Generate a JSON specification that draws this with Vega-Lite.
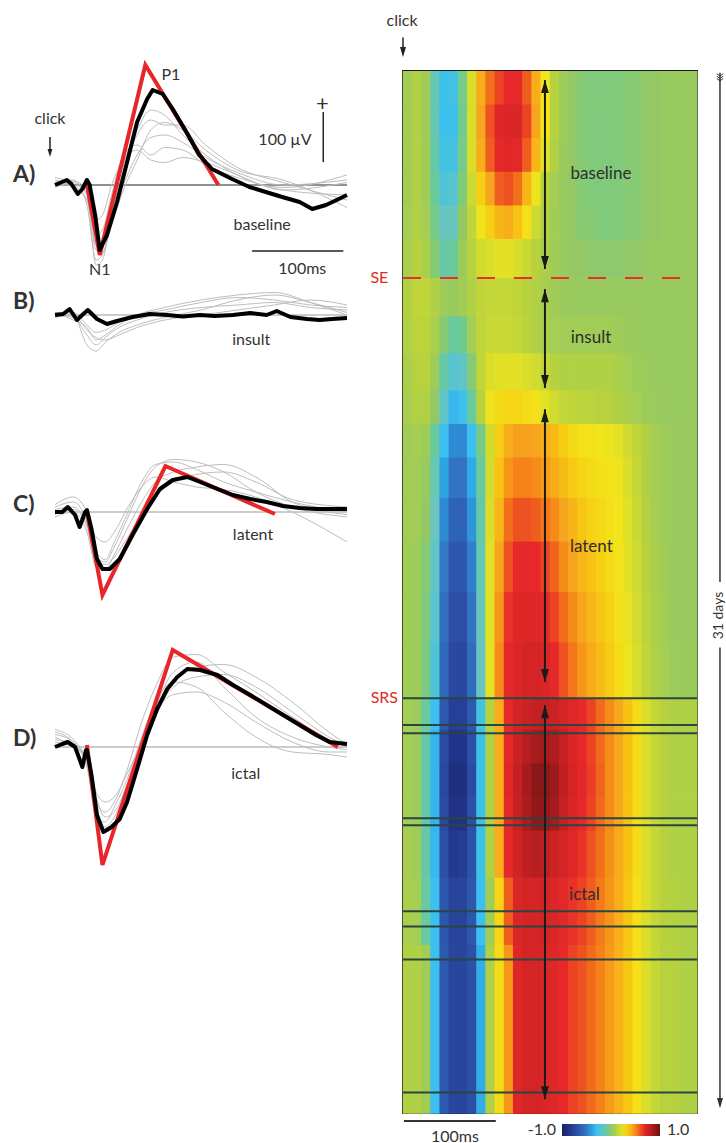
{
"$schema":"https://vega.github.io/schema/vega-lite/v6.json",
"autosize":{"type":"pad"},
"padding":{"left":13,"top":11,"right":0,"bottom":0},
"background":"white",
"config":{"view":{"stroke":null},"font":"Lato","text":{"font":"Lato","color":"#333"},"legend":{"padding":0}},
"datasets":{
"A":[
{"s":"m","t":0,"v":0},{"s":"m","t":13,"v":10},{"s":"m","t":18,"v":2},{"s":"m","t":25,"v":-18},{"s":"m","t":30,"v":-8},{"s":"m","t":35,"v":10},{"s":"m","t":38,"v":0},{"s":"m","t":44,"v":-60},{"s":"m","t":49,"v":-130},{"s":"m","t":57,"v":-100},{"s":"m","t":68,"v":-34},{"s":"m","t":79,"v":46},{"s":"m","t":90,"v":126},{"s":"m","t":101,"v":172},{"s":"m","t":107,"v":190},{"s":"m","t":118,"v":182},{"s":"m","t":129,"v":152},{"s":"m","t":144,"v":106},{"s":"m","t":158,"v":60},{"s":"m","t":172,"v":32},{"s":"m","t":194,"v":12},{"s":"m","t":213,"v":-4},{"s":"m","t":231,"v":-14},{"s":"m","t":249,"v":-24},{"s":"m","t":268,"v":-34},{"s":"m","t":282,"v":-48},{"s":"m","t":297,"v":-40},{"s":"m","t":311,"v":-28},{"s":"m","t":320,"v":-20},
{"s":"r","t":35,"v":0},{"s":"r","t":49,"v":-140},{"s":"r","t":99,"v":240},{"s":"r","t":179,"v":0},
{"s":"g1","t":0,"v":0},{"s":"g1","t":20,"v":8},{"s":"g1","t":35,"v":-10},{"s":"g1","t":45,"v":-120},{"s":"g1","t":52,"v":-110},{"s":"g1","t":62,"v":-40},{"s":"g1","t":75,"v":40},{"s":"g1","t":90,"v":110},{"s":"g1","t":105,"v":150},{"s":"g1","t":120,"v":140},{"s":"g1","t":140,"v":100},{"s":"g1","t":165,"v":60},{"s":"g1","t":200,"v":20},{"s":"g1","t":250,"v":-10},{"s":"g1","t":320,"v":-20},
{"s":"g2","t":0,"v":5},{"s":"g2","t":20,"v":10},{"s":"g2","t":35,"v":-40},{"s":"g2","t":45,"v":-150},{"s":"g2","t":52,"v":-140},{"s":"g2","t":62,"v":-70},{"s":"g2","t":75,"v":0},{"s":"g2","t":90,"v":60},{"s":"g2","t":105,"v":95},{"s":"g2","t":120,"v":100},{"s":"g2","t":140,"v":85},{"s":"g2","t":165,"v":55},{"s":"g2","t":200,"v":25},{"s":"g2","t":250,"v":0},{"s":"g2","t":320,"v":10},
{"s":"g3","t":0,"v":15},{"s":"g3","t":20,"v":0},{"s":"g3","t":35,"v":-30},{"s":"g3","t":45,"v":-100},{"s":"g3","t":52,"v":-90},{"s":"g3","t":62,"v":-20},{"s":"g3","t":75,"v":60},{"s":"g3","t":90,"v":80},{"s":"g3","t":105,"v":60},{"s":"g3","t":120,"v":75},{"s":"g3","t":140,"v":70},{"s":"g3","t":165,"v":40},{"s":"g3","t":200,"v":15},{"s":"g3","t":250,"v":-5},{"s":"g3","t":320,"v":20},
{"s":"g4","t":0,"v":-5},{"s":"g4","t":20,"v":5},{"s":"g4","t":35,"v":-20},{"s":"g4","t":45,"v":-160},{"s":"g4","t":52,"v":-150},{"s":"g4","t":62,"v":-60},{"s":"g4","t":75,"v":30},{"s":"g4","t":90,"v":100},{"s":"g4","t":105,"v":130},{"s":"g4","t":120,"v":120},{"s":"g4","t":140,"v":120},{"s":"g4","t":165,"v":80},{"s":"g4","t":200,"v":35},{"s":"g4","t":250,"v":5},{"s":"g4","t":320,"v":-30},
{"s":"g5","t":0,"v":0},{"s":"g5","t":20,"v":0},{"s":"g5","t":35,"v":-15},{"s":"g5","t":45,"v":-70},{"s":"g5","t":52,"v":-60},{"s":"g5","t":62,"v":0},{"s":"g5","t":75,"v":50},{"s":"g5","t":90,"v":70},{"s":"g5","t":105,"v":50},{"s":"g5","t":120,"v":45},{"s":"g5","t":140,"v":55},{"s":"g5","t":165,"v":45},{"s":"g5","t":200,"v":20},{"s":"g5","t":250,"v":-10},{"s":"g5","t":320,"v":5},
{"s":"g6","t":0,"v":10},{"s":"g6","t":20,"v":-5},{"s":"g6","t":35,"v":-30},{"s":"g6","t":45,"v":-130},{"s":"g6","t":52,"v":-135},{"s":"g6","t":62,"v":-80},{"s":"g6","t":75,"v":-10},{"s":"g6","t":90,"v":50},{"s":"g6","t":105,"v":110},{"s":"g6","t":120,"v":125},{"s":"g6","t":140,"v":110},{"s":"g6","t":165,"v":70},{"s":"g6","t":200,"v":30},{"s":"g6","t":250,"v":10},{"s":"g6","t":320,"v":-45}
],
"B":[
{"s":"m","t":0,"v":0},{"s":"m","t":9,"v":2},{"s":"m","t":16,"v":12},{"s":"m","t":24,"v":-10},{"s":"m","t":31,"v":2},{"s":"m","t":36,"v":10},{"s":"m","t":46,"v":-8},{"s":"m","t":57,"v":-18},{"s":"m","t":68,"v":-12},{"s":"m","t":85,"v":-4},{"s":"m","t":104,"v":2},{"s":"m","t":123,"v":0},{"s":"m","t":140,"v":-3},{"s":"m","t":159,"v":0},{"s":"m","t":175,"v":-2},{"s":"m","t":195,"v":0},{"s":"m","t":214,"v":4},{"s":"m","t":232,"v":0},{"s":"m","t":243,"v":8},{"s":"m","t":258,"v":-4},{"s":"m","t":276,"v":-8},{"s":"m","t":290,"v":-10},{"s":"m","t":304,"v":-8},{"s":"m","t":320,"v":-6},
{"s":"g1","t":0,"v":0},{"s":"g1","t":20,"v":-5},{"s":"g1","t":35,"v":-40},{"s":"g1","t":45,"v":-60},{"s":"g1","t":55,"v":-45},{"s":"g1","t":70,"v":-25},{"s":"g1","t":90,"v":-10},{"s":"g1","t":120,"v":5},{"s":"g1","t":160,"v":15},{"s":"g1","t":200,"v":20},{"s":"g1","t":240,"v":25},{"s":"g1","t":280,"v":15},{"s":"g1","t":320,"v":10},
{"s":"g2","t":0,"v":5},{"s":"g2","t":20,"v":0},{"s":"g2","t":35,"v":-60},{"s":"g2","t":45,"v":-72},{"s":"g2","t":55,"v":-55},{"s":"g2","t":70,"v":-35},{"s":"g2","t":90,"v":-20},{"s":"g2","t":120,"v":-5},{"s":"g2","t":160,"v":10},{"s":"g2","t":200,"v":30},{"s":"g2","t":240,"v":40},{"s":"g2","t":280,"v":25},{"s":"g2","t":320,"v":5},
{"s":"g3","t":0,"v":0},{"s":"g3","t":20,"v":5},{"s":"g3","t":35,"v":-20},{"s":"g3","t":45,"v":-35},{"s":"g3","t":55,"v":-30},{"s":"g3","t":70,"v":-15},{"s":"g3","t":90,"v":0},{"s":"g3","t":120,"v":10},{"s":"g3","t":160,"v":25},{"s":"g3","t":200,"v":35},{"s":"g3","t":240,"v":30},{"s":"g3","t":280,"v":20},{"s":"g3","t":320,"v":15},
{"s":"g4","t":0,"v":-5},{"s":"g4","t":20,"v":0},{"s":"g4","t":35,"v":-30},{"s":"g4","t":45,"v":-45},{"s":"g4","t":55,"v":-50},{"s":"g4","t":70,"v":-40},{"s":"g4","t":90,"v":-25},{"s":"g4","t":120,"v":-10},{"s":"g4","t":160,"v":0},{"s":"g4","t":200,"v":10},{"s":"g4","t":240,"v":20},{"s":"g4","t":280,"v":30},{"s":"g4","t":320,"v":20},
{"s":"g5","t":0,"v":5},{"s":"g5","t":20,"v":-10},{"s":"g5","t":35,"v":-25},{"s":"g5","t":45,"v":-50},{"s":"g5","t":55,"v":-40},{"s":"g5","t":70,"v":-20},{"s":"g5","t":90,"v":0},{"s":"g5","t":120,"v":15},{"s":"g5","t":160,"v":30},{"s":"g5","t":200,"v":40},{"s":"g5","t":240,"v":45},{"s":"g5","t":280,"v":25},{"s":"g5","t":320,"v":0}
],
"C":[
{"s":"m","t":0,"v":0},{"s":"m","t":8,"v":0},{"s":"m","t":14,"v":10},{"s":"m","t":22,"v":-6},{"s":"m","t":27,"v":-30},{"s":"m","t":33,"v":0},{"s":"m","t":35,"v":4},{"s":"m","t":40,"v":-34},{"s":"m","t":46,"v":-94},{"s":"m","t":52,"v":-114},{"s":"m","t":60,"v":-114},{"s":"m","t":71,"v":-94},{"s":"m","t":85,"v":-46},{"s":"m","t":101,"v":6},{"s":"m","t":115,"v":46},{"s":"m","t":129,"v":64},{"s":"m","t":145,"v":70},{"s":"m","t":159,"v":60},{"s":"m","t":178,"v":46},{"s":"m","t":195,"v":34},{"s":"m","t":214,"v":26},{"s":"m","t":232,"v":20},{"s":"m","t":250,"v":12},{"s":"m","t":268,"v":8},{"s":"m","t":286,"v":6},{"s":"m","t":304,"v":6},{"s":"m","t":320,"v":6},
{"s":"r","t":35,"v":0},{"s":"r","t":52,"v":-166},{"s":"r","t":121,"v":92},{"s":"r","t":241,"v":-4},
{"s":"g1","t":0,"v":10},{"s":"g1","t":20,"v":20},{"s":"g1","t":35,"v":-20},{"s":"g1","t":45,"v":-90},{"s":"g1","t":55,"v":-100},{"s":"g1","t":65,"v":-70},{"s":"g1","t":80,"v":-10},{"s":"g1","t":95,"v":50},{"s":"g1","t":110,"v":90},{"s":"g1","t":130,"v":105},{"s":"g1","t":155,"v":100},{"s":"g1","t":185,"v":80},{"s":"g1","t":220,"v":40},{"s":"g1","t":260,"v":10},{"s":"g1","t":320,"v":-10},
{"s":"g2","t":0,"v":-10},{"s":"g2","t":20,"v":0},{"s":"g2","t":35,"v":-40},{"s":"g2","t":45,"v":-110},{"s":"g2","t":55,"v":-115},{"s":"g2","t":65,"v":-85},{"s":"g2","t":80,"v":-30},{"s":"g2","t":95,"v":20},{"s":"g2","t":110,"v":60},{"s":"g2","t":130,"v":80},{"s":"g2","t":155,"v":90},{"s":"g2","t":185,"v":95},{"s":"g2","t":220,"v":70},{"s":"g2","t":260,"v":20},{"s":"g2","t":320,"v":-5},
{"s":"g3","t":0,"v":15},{"s":"g3","t":20,"v":30},{"s":"g3","t":35,"v":0},{"s":"g3","t":45,"v":-50},{"s":"g3","t":55,"v":-60},{"s":"g3","t":65,"v":-40},{"s":"g3","t":80,"v":10},{"s":"g3","t":95,"v":50},{"s":"g3","t":110,"v":70},{"s":"g3","t":130,"v":60},{"s":"g3","t":155,"v":50},{"s":"g3","t":185,"v":45},{"s":"g3","t":220,"v":30},{"s":"g3","t":260,"v":0},{"s":"g3","t":320,"v":-60},
{"s":"g4","t":0,"v":5},{"s":"g4","t":20,"v":10},{"s":"g4","t":35,"v":-30},{"s":"g4","t":45,"v":-100},{"s":"g4","t":55,"v":-105},{"s":"g4","t":65,"v":-90},{"s":"g4","t":80,"v":-50},{"s":"g4","t":95,"v":-10},{"s":"g4","t":110,"v":30},{"s":"g4","t":130,"v":60},{"s":"g4","t":155,"v":75},{"s":"g4","t":185,"v":80},{"s":"g4","t":220,"v":60},{"s":"g4","t":260,"v":25},{"s":"g4","t":320,"v":10},
{"s":"g5","t":0,"v":-5},{"s":"g5","t":20,"v":5},{"s":"g5","t":35,"v":-25},{"s":"g5","t":45,"v":-80},{"s":"g5","t":55,"v":-95},{"s":"g5","t":65,"v":-60},{"s":"g5","t":80,"v":0},{"s":"g5","t":95,"v":60},{"s":"g5","t":110,"v":95},{"s":"g5","t":130,"v":100},{"s":"g5","t":155,"v":85},{"s":"g5","t":185,"v":60},{"s":"g5","t":220,"v":40},{"s":"g5","t":260,"v":20},{"s":"g5","t":320,"v":0}
],
"D":[
{"s":"m","t":0,"v":0},{"s":"m","t":8,"v":6},{"s":"m","t":14,"v":10},{"s":"m","t":22,"v":0},{"s":"m","t":30,"v":-40},{"s":"m","t":34,"v":-6},{"s":"m","t":35,"v":-6},{"s":"m","t":40,"v":-56},{"s":"m","t":46,"v":-136},{"s":"m","t":53,"v":-170},{"s":"m","t":62,"v":-160},{"s":"m","t":71,"v":-144},{"s":"m","t":79,"v":-110},{"s":"m","t":90,"v":-44},{"s":"m","t":101,"v":24},{"s":"m","t":112,"v":76},{"s":"m","t":123,"v":116},{"s":"m","t":134,"v":140},{"s":"m","t":145,"v":156},{"s":"m","t":159,"v":154},{"s":"m","t":178,"v":144},{"s":"m","t":195,"v":124},{"s":"m","t":214,"v":104},{"s":"m","t":232,"v":84},{"s":"m","t":250,"v":64},{"s":"m","t":268,"v":44},{"s":"m","t":286,"v":24},{"s":"m","t":301,"v":10},{"s":"m","t":320,"v":6},
{"s":"r","t":35,"v":4},{"s":"r","t":52,"v":-236},{"s":"r","t":129,"v":194},{"s":"r","t":310,"v":0},
{"s":"g1","t":0,"v":30},{"s":"g1","t":20,"v":10},{"s":"g1","t":35,"v":-30},{"s":"g1","t":45,"v":-110},{"s":"g1","t":55,"v":-130},{"s":"g1","t":65,"v":-110},{"s":"g1","t":80,"v":-40},{"s":"g1","t":95,"v":50},{"s":"g1","t":110,"v":120},{"s":"g1","t":130,"v":180},{"s":"g1","t":155,"v":185},{"s":"g1","t":185,"v":150},{"s":"g1","t":220,"v":110},{"s":"g1","t":260,"v":60},{"s":"g1","t":300,"v":15},{"s":"g1","t":320,"v":0},
{"s":"g2","t":0,"v":15},{"s":"g2","t":20,"v":5},{"s":"g2","t":35,"v":-40},{"s":"g2","t":45,"v":-140},{"s":"g2","t":55,"v":-150},{"s":"g2","t":65,"v":-120},{"s":"g2","t":80,"v":-60},{"s":"g2","t":95,"v":20},{"s":"g2","t":110,"v":90},{"s":"g2","t":130,"v":130},{"s":"g2","t":155,"v":120},{"s":"g2","t":185,"v":70},{"s":"g2","t":220,"v":20},{"s":"g2","t":260,"v":-10},{"s":"g2","t":300,"v":-15},{"s":"g2","t":320,"v":-20},
{"s":"g3","t":0,"v":20},{"s":"g3","t":20,"v":0},{"s":"g3","t":35,"v":-20},{"s":"g3","t":45,"v":-90},{"s":"g3","t":55,"v":-110},{"s":"g3","t":65,"v":-100},{"s":"g3","t":80,"v":-50},{"s":"g3","t":95,"v":10},{"s":"g3","t":110,"v":70},{"s":"g3","t":130,"v":105},{"s":"g3","t":155,"v":110},{"s":"g3","t":185,"v":90},{"s":"g3","t":220,"v":50},{"s":"g3","t":260,"v":10},{"s":"g3","t":300,"v":-10},{"s":"g3","t":320,"v":-10},
{"s":"g4","t":0,"v":35},{"s":"g4","t":20,"v":15},{"s":"g4","t":35,"v":-30},{"s":"g4","t":45,"v":-120},{"s":"g4","t":55,"v":-170},{"s":"g4","t":65,"v":-160},{"s":"g4","t":80,"v":-90},{"s":"g4","t":95,"v":-10},{"s":"g4","t":110,"v":60},{"s":"g4","t":130,"v":130},{"s":"g4","t":155,"v":160},{"s":"g4","t":185,"v":165},{"s":"g4","t":220,"v":140},{"s":"g4","t":260,"v":90},{"s":"g4","t":300,"v":30},{"s":"g4","t":320,"v":5},
{"s":"g5","t":0,"v":10},{"s":"g5","t":20,"v":0},{"s":"g5","t":35,"v":-25},{"s":"g5","t":45,"v":-100},{"s":"g5","t":55,"v":-140},{"s":"g5","t":65,"v":-130},{"s":"g5","t":80,"v":-70},{"s":"g5","t":95,"v":10},{"s":"g5","t":110,"v":80},{"s":"g5","t":130,"v":150},{"s":"g5","t":155,"v":170},{"s":"g5","t":185,"v":120},{"s":"g5","t":220,"v":60},{"s":"g5","t":260,"v":20},{"s":"g5","t":300,"v":0},{"s":"g5","t":320,"v":-5},
{"s":"g6","t":0,"v":25},{"s":"g6","t":20,"v":10},{"s":"g6","t":35,"v":-35},{"s":"g6","t":45,"v":-130},{"s":"g6","t":55,"v":-160},{"s":"g6","t":65,"v":-140},{"s":"g6","t":80,"v":-75},{"s":"g6","t":95,"v":0},{"s":"g6","t":110,"v":70},{"s":"g6","t":130,"v":120},{"s":"g6","t":155,"v":140},{"s":"g6","t":185,"v":145},{"s":"g6","t":220,"v":120},{"s":"g6","t":260,"v":70},{"s":"g6","t":300,"v":20},{"s":"g6","t":320,"v":0}
],
"R":[{"r":1,"d":0,"e":1},{"r":2,"d":1,"e":2},{"r":3,"d":2,"e":3},{"r":4,"d":3,"e":4},{"r":5,"d":4,"e":5},{"r":6,"d":5,"e":6.16},{"r":7,"d":6.16,"e":7.3},{"r":8,"d":7.3,"e":8.4},{"r":9,"d":8.4,"e":9.5},{"r":10,"d":9.5,"e":10.5},{"r":11,"d":10.5,"e":11.5},{"r":12,"d":11.5,"e":12.7},{"r":13,"d":12.7,"e":14},{"r":14,"d":14,"e":15.5},{"r":15,"d":15.5,"e":17},{"r":16,"d":17,"e":18.66},{"r":17,"d":18.66,"e":19.6},{"r":18,"d":19.6,"e":20.6},{"r":19,"d":20.6,"e":21.6},{"r":20,"d":21.6,"e":22.6},{"r":21,"d":22.6,"e":24},{"r":22,"d":24,"e":26},{"r":23,"d":26,"e":31}],
"H":[
{"r":1,"t":0,"v":0.05},{"r":1,"t":10,"v":0.1},{"r":1,"t":20,"v":0.05},{"r":1,"t":30,"v":-0.12},{"r":1,"t":40,"v":-0.28},{"r":1,"t":50,"v":-0.26},{"r":1,"t":60,"v":-0.05},{"r":1,"t":70,"v":0.2},{"r":1,"t":80,"v":0.42},{"r":1,"t":90,"v":0.55},{"r":1,"t":100,"v":0.62},{"r":1,"t":110,"v":0.65},{"r":1,"t":120,"v":0.65},{"r":1,"t":130,"v":0.58},{"r":1,"t":140,"v":0.42},{"r":1,"t":150,"v":0.25},{"r":1,"t":160,"v":0.12},{"r":1,"t":170,"v":0.04},{"r":1,"t":180,"v":0},{"r":1,"t":190,"v":-0.02},{"r":1,"t":200,"v":-0.03},{"r":1,"t":210,"v":-0.03},{"r":1,"t":220,"v":-0.03},{"r":1,"t":230,"v":-0.03},{"r":1,"t":240,"v":-0.02},{"r":1,"t":250,"v":-0.02},{"r":1,"t":260,"v":0},{"r":1,"t":270,"v":0},{"r":1,"t":280,"v":0.02},{"r":1,"t":290,"v":0.02},{"r":1,"t":300,"v":0.02},{"r":1,"t":310,"v":0.02},
{"r":2,"t":0,"v":0.05},{"r":2,"t":10,"v":0.1},{"r":2,"t":20,"v":0.05},{"r":2,"t":30,"v":-0.12},{"r":2,"t":40,"v":-0.3},{"r":2,"t":50,"v":-0.28},{"r":2,"t":60,"v":-0.06},{"r":2,"t":70,"v":0.2},{"r":2,"t":80,"v":0.45},{"r":2,"t":90,"v":0.6},{"r":2,"t":100,"v":0.68},{"r":2,"t":110,"v":0.7},{"r":2,"t":120,"v":0.7},{"r":2,"t":130,"v":0.62},{"r":2,"t":140,"v":0.45},{"r":2,"t":150,"v":0.25},{"r":2,"t":160,"v":0.12},{"r":2,"t":170,"v":0.04},{"r":2,"t":180,"v":0},{"r":2,"t":190,"v":-0.02},{"r":2,"t":200,"v":-0.03},{"r":2,"t":210,"v":-0.03},{"r":2,"t":220,"v":-0.03},{"r":2,"t":230,"v":-0.03},{"r":2,"t":240,"v":-0.02},{"r":2,"t":250,"v":-0.02},{"r":2,"t":260,"v":0},{"r":2,"t":270,"v":0},{"r":2,"t":280,"v":0.02},{"r":2,"t":290,"v":0.02},{"r":2,"t":300,"v":0.02},{"r":2,"t":310,"v":0.02},
{"r":3,"t":0,"v":0.05},{"r":3,"t":10,"v":0.1},{"r":3,"t":20,"v":0.05},{"r":3,"t":30,"v":-0.1},{"r":3,"t":40,"v":-0.26},{"r":3,"t":50,"v":-0.25},{"r":3,"t":60,"v":-0.05},{"r":3,"t":70,"v":0.2},{"r":3,"t":80,"v":0.42},{"r":3,"t":90,"v":0.58},{"r":3,"t":100,"v":0.66},{"r":3,"t":110,"v":0.68},{"r":3,"t":120,"v":0.67},{"r":3,"t":130,"v":0.58},{"r":3,"t":140,"v":0.4},{"r":3,"t":150,"v":0.22},{"r":3,"t":160,"v":0.1},{"r":3,"t":170,"v":0.03},{"r":3,"t":180,"v":0},{"r":3,"t":190,"v":-0.02},{"r":3,"t":200,"v":-0.03},{"r":3,"t":210,"v":-0.03},{"r":3,"t":220,"v":-0.03},{"r":3,"t":230,"v":-0.03},{"r":3,"t":240,"v":-0.02},{"r":3,"t":250,"v":-0.02},{"r":3,"t":260,"v":0},{"r":3,"t":270,"v":0},{"r":3,"t":280,"v":0.02},{"r":3,"t":290,"v":0.02},{"r":3,"t":300,"v":0.02},{"r":3,"t":310,"v":0.02},
{"r":4,"t":0,"v":0.05},{"r":4,"t":10,"v":0.1},{"r":4,"t":20,"v":0.05},{"r":4,"t":30,"v":-0.08},{"r":4,"t":40,"v":-0.22},{"r":4,"t":50,"v":-0.2},{"r":4,"t":60,"v":-0.03},{"r":4,"t":70,"v":0.17},{"r":4,"t":80,"v":0.32},{"r":4,"t":90,"v":0.45},{"r":4,"t":100,"v":0.58},{"r":4,"t":110,"v":0.6},{"r":4,"t":120,"v":0.55},{"r":4,"t":130,"v":0.4},{"r":4,"t":140,"v":0.24},{"r":4,"t":150,"v":0.12},{"r":4,"t":160,"v":0.06},{"r":4,"t":170,"v":0.02},{"r":4,"t":180,"v":0},{"r":4,"t":190,"v":-0.02},{"r":4,"t":200,"v":-0.03},{"r":4,"t":210,"v":-0.03},{"r":4,"t":220,"v":-0.03},{"r":4,"t":230,"v":-0.03},{"r":4,"t":240,"v":-0.02},{"r":4,"t":250,"v":-0.02},{"r":4,"t":260,"v":0},{"r":4,"t":270,"v":0},{"r":4,"t":280,"v":0.02},{"r":4,"t":290,"v":0.02},{"r":4,"t":300,"v":0.02},{"r":4,"t":310,"v":0.02},
{"r":5,"t":0,"v":0.06},{"r":5,"t":10,"v":0.1},{"r":5,"t":20,"v":0.06},{"r":5,"t":30,"v":-0.05},{"r":5,"t":40,"v":-0.16},{"r":5,"t":50,"v":-0.14},{"r":5,"t":60,"v":0},{"r":5,"t":70,"v":0.14},{"r":5,"t":80,"v":0.24},{"r":5,"t":90,"v":0.32},{"r":5,"t":100,"v":0.4},{"r":5,"t":110,"v":0.42},{"r":5,"t":120,"v":0.36},{"r":5,"t":130,"v":0.27},{"r":5,"t":140,"v":0.17},{"r":5,"t":150,"v":0.1},{"r":5,"t":160,"v":0.05},{"r":5,"t":170,"v":0.02},{"r":5,"t":180,"v":0},{"r":5,"t":190,"v":-0.02},{"r":5,"t":200,"v":-0.02},{"r":5,"t":210,"v":-0.03},{"r":5,"t":220,"v":-0.03},{"r":5,"t":230,"v":-0.03},{"r":5,"t":240,"v":-0.02},{"r":5,"t":250,"v":-0.02},{"r":5,"t":260,"v":0},{"r":5,"t":270,"v":0},{"r":5,"t":280,"v":0.02},{"r":5,"t":290,"v":0.02},{"r":5,"t":300,"v":0.02},{"r":5,"t":310,"v":0.02},
{"r":6,"t":0,"v":0.08},{"r":6,"t":10,"v":0.12},{"r":6,"t":20,"v":0.08},{"r":6,"t":30,"v":-0.02},{"r":6,"t":40,"v":-0.1},{"r":6,"t":50,"v":-0.08},{"r":6,"t":60,"v":0.03},{"r":6,"t":70,"v":0.12},{"r":6,"t":80,"v":0.18},{"r":6,"t":90,"v":0.2},{"r":6,"t":100,"v":0.22},{"r":6,"t":110,"v":0.22},{"r":6,"t":120,"v":0.2},{"r":6,"t":130,"v":0.16},{"r":6,"t":140,"v":0.12},{"r":6,"t":150,"v":0.08},{"r":6,"t":160,"v":0.05},{"r":6,"t":170,"v":0.02},{"r":6,"t":180,"v":0.01},{"r":6,"t":190,"v":0},{"r":6,"t":200,"v":-0.01},{"r":6,"t":210,"v":-0.01},{"r":6,"t":220,"v":-0.01},{"r":6,"t":230,"v":-0.01},{"r":6,"t":240,"v":0},{"r":6,"t":250,"v":0},{"r":6,"t":260,"v":0.01},{"r":6,"t":270,"v":0.02},{"r":6,"t":280,"v":0.02},{"r":6,"t":290,"v":0.02},{"r":6,"t":300,"v":0.02},{"r":6,"t":310,"v":0.02},
{"r":7,"t":0,"v":0.1},{"r":7,"t":10,"v":0.14},{"r":7,"t":20,"v":0.14},{"r":7,"t":30,"v":0.1},{"r":7,"t":40,"v":0.04},{"r":7,"t":50,"v":0.02},{"r":7,"t":60,"v":0.05},{"r":7,"t":70,"v":0.1},{"r":7,"t":80,"v":0.14},{"r":7,"t":90,"v":0.15},{"r":7,"t":100,"v":0.15},{"r":7,"t":110,"v":0.15},{"r":7,"t":120,"v":0.14},{"r":7,"t":130,"v":0.12},{"r":7,"t":140,"v":0.1},{"r":7,"t":150,"v":0.07},{"r":7,"t":160,"v":0.05},{"r":7,"t":170,"v":0.03},{"r":7,"t":180,"v":0.02},{"r":7,"t":190,"v":0.02},{"r":7,"t":200,"v":0.02},{"r":7,"t":210,"v":0.02},{"r":7,"t":220,"v":0.02},{"r":7,"t":230,"v":0.02},{"r":7,"t":240,"v":0.02},{"r":7,"t":250,"v":0.02},{"r":7,"t":260,"v":0.02},{"r":7,"t":270,"v":0.02},{"r":7,"t":280,"v":0.02},{"r":7,"t":290,"v":0.02},{"r":7,"t":300,"v":0.02},{"r":7,"t":310,"v":0.02},
{"r":8,"t":0,"v":0.1},{"r":8,"t":10,"v":0.13},{"r":8,"t":20,"v":0.13},{"r":8,"t":30,"v":0.08},{"r":8,"t":40,"v":-0.02},{"r":8,"t":50,"v":-0.08},{"r":8,"t":60,"v":-0.06},{"r":8,"t":70,"v":0.06},{"r":8,"t":80,"v":0.14},{"r":8,"t":90,"v":0.16},{"r":8,"t":100,"v":0.16},{"r":8,"t":110,"v":0.16},{"r":8,"t":120,"v":0.15},{"r":8,"t":130,"v":0.13},{"r":8,"t":140,"v":0.1},{"r":8,"t":150,"v":0.08},{"r":8,"t":160,"v":0.06},{"r":8,"t":170,"v":0.05},{"r":8,"t":180,"v":0.05},{"r":8,"t":190,"v":0.05},{"r":8,"t":200,"v":0.05},{"r":8,"t":210,"v":0.05},{"r":8,"t":220,"v":0.05},{"r":8,"t":230,"v":0.04},{"r":8,"t":240,"v":0.03},{"r":8,"t":250,"v":0.02},{"r":8,"t":260,"v":0.02},{"r":8,"t":270,"v":0.02},{"r":8,"t":280,"v":0.02},{"r":8,"t":290,"v":0.02},{"r":8,"t":300,"v":0.02},{"r":8,"t":310,"v":0.02},
{"r":9,"t":0,"v":0.08},{"r":9,"t":10,"v":0.12},{"r":9,"t":20,"v":0.12},{"r":9,"t":30,"v":0.04},{"r":9,"t":40,"v":-0.1},{"r":9,"t":50,"v":-0.2},{"r":9,"t":60,"v":-0.18},{"r":9,"t":70,"v":-0.02},{"r":9,"t":80,"v":0.14},{"r":9,"t":90,"v":0.2},{"r":9,"t":100,"v":0.22},{"r":9,"t":110,"v":0.22},{"r":9,"t":120,"v":0.22},{"r":9,"t":130,"v":0.2},{"r":9,"t":140,"v":0.18},{"r":9,"t":150,"v":0.15},{"r":9,"t":160,"v":0.12},{"r":9,"t":170,"v":0.1},{"r":9,"t":180,"v":0.1},{"r":9,"t":190,"v":0.1},{"r":9,"t":200,"v":0.1},{"r":9,"t":210,"v":0.1},{"r":9,"t":220,"v":0.1},{"r":9,"t":230,"v":0.08},{"r":9,"t":240,"v":0.06},{"r":9,"t":250,"v":0.04},{"r":9,"t":260,"v":0.03},{"r":9,"t":270,"v":0.02},{"r":9,"t":280,"v":0.02},{"r":9,"t":290,"v":0.02},{"r":9,"t":300,"v":0.02},{"r":9,"t":310,"v":0.02},
{"r":10,"t":0,"v":0.07},{"r":10,"t":10,"v":0.1},{"r":10,"t":20,"v":0.1},{"r":10,"t":30,"v":0},{"r":10,"t":40,"v":-0.18},{"r":10,"t":50,"v":-0.32},{"r":10,"t":60,"v":-0.3},{"r":10,"t":70,"v":-0.08},{"r":10,"t":80,"v":0.12},{"r":10,"t":90,"v":0.24},{"r":10,"t":100,"v":0.28},{"r":10,"t":110,"v":0.3},{"r":10,"t":120,"v":0.3},{"r":10,"t":130,"v":0.28},{"r":10,"t":140,"v":0.26},{"r":10,"t":150,"v":0.22},{"r":10,"t":160,"v":0.18},{"r":10,"t":170,"v":0.15},{"r":10,"t":180,"v":0.14},{"r":10,"t":190,"v":0.13},{"r":10,"t":200,"v":0.13},{"r":10,"t":210,"v":0.12},{"r":10,"t":220,"v":0.12},{"r":10,"t":230,"v":0.1},{"r":10,"t":240,"v":0.08},{"r":10,"t":250,"v":0.06},{"r":10,"t":260,"v":0.04},{"r":10,"t":270,"v":0.03},{"r":10,"t":280,"v":0.02},{"r":10,"t":290,"v":0.02},{"r":10,"t":300,"v":0.02},{"r":10,"t":310,"v":0.02},
{"r":11,"t":0,"v":0.05},{"r":11,"t":10,"v":0.06},{"r":11,"t":20,"v":0.04},{"r":11,"t":30,"v":-0.08},{"r":11,"t":40,"v":-0.3},{"r":11,"t":50,"v":-0.45},{"r":11,"t":60,"v":-0.45},{"r":11,"t":70,"v":-0.3},{"r":11,"t":80,"v":-0.05},{"r":11,"t":90,"v":0.18},{"r":11,"t":100,"v":0.32},{"r":11,"t":110,"v":0.42},{"r":11,"t":120,"v":0.46},{"r":11,"t":130,"v":0.46},{"r":11,"t":140,"v":0.45},{"r":11,"t":150,"v":0.42},{"r":11,"t":160,"v":0.38},{"r":11,"t":170,"v":0.32},{"r":11,"t":180,"v":0.28},{"r":11,"t":190,"v":0.27},{"r":11,"t":200,"v":0.26},{"r":11,"t":210,"v":0.25},{"r":11,"t":220,"v":0.24},{"r":11,"t":230,"v":0.22},{"r":11,"t":240,"v":0.18},{"r":11,"t":250,"v":0.14},{"r":11,"t":260,"v":0.1},{"r":11,"t":270,"v":0.06},{"r":11,"t":280,"v":0.04},{"r":11,"t":290,"v":0.03},{"r":11,"t":300,"v":0.02},{"r":11,"t":310,"v":0.02},
{"r":12,"t":0,"v":0.05},{"r":12,"t":10,"v":0.05},{"r":12,"t":20,"v":0.02},{"r":12,"t":30,"v":-0.12},{"r":12,"t":40,"v":-0.38},{"r":12,"t":50,"v":-0.52},{"r":12,"t":60,"v":-0.52},{"r":12,"t":70,"v":-0.36},{"r":12,"t":80,"v":-0.08},{"r":12,"t":90,"v":0.18},{"r":12,"t":100,"v":0.36},{"r":12,"t":110,"v":0.48},{"r":12,"t":120,"v":0.52},{"r":12,"t":130,"v":0.52},{"r":12,"t":140,"v":0.5},{"r":12,"t":150,"v":0.47},{"r":12,"t":160,"v":0.43},{"r":12,"t":170,"v":0.38},{"r":12,"t":180,"v":0.33},{"r":12,"t":190,"v":0.3},{"r":12,"t":200,"v":0.28},{"r":12,"t":210,"v":0.27},{"r":12,"t":220,"v":0.26},{"r":12,"t":230,"v":0.24},{"r":12,"t":240,"v":0.2},{"r":12,"t":250,"v":0.15},{"r":12,"t":260,"v":0.1},{"r":12,"t":270,"v":0.06},{"r":12,"t":280,"v":0.04},{"r":12,"t":290,"v":0.03},{"r":12,"t":300,"v":0.02},{"r":12,"t":310,"v":0.02},
{"r":13,"t":0,"v":0.05},{"r":13,"t":10,"v":0.05},{"r":13,"t":20,"v":0},{"r":13,"t":30,"v":-0.15},{"r":13,"t":40,"v":-0.45},{"r":13,"t":50,"v":-0.6},{"r":13,"t":60,"v":-0.6},{"r":13,"t":70,"v":-0.42},{"r":13,"t":80,"v":-0.1},{"r":13,"t":90,"v":0.2},{"r":13,"t":100,"v":0.4},{"r":13,"t":110,"v":0.55},{"r":13,"t":120,"v":0.6},{"r":13,"t":130,"v":0.6},{"r":13,"t":140,"v":0.58},{"r":13,"t":150,"v":0.54},{"r":13,"t":160,"v":0.5},{"r":13,"t":170,"v":0.45},{"r":13,"t":180,"v":0.4},{"r":13,"t":190,"v":0.35},{"r":13,"t":200,"v":0.31},{"r":13,"t":210,"v":0.29},{"r":13,"t":220,"v":0.27},{"r":13,"t":230,"v":0.25},{"r":13,"t":240,"v":0.21},{"r":13,"t":250,"v":0.16},{"r":13,"t":260,"v":0.11},{"r":13,"t":270,"v":0.07},{"r":13,"t":280,"v":0.04},{"r":13,"t":290,"v":0.03},{"r":13,"t":300,"v":0.02},{"r":13,"t":310,"v":0.02},
{"r":14,"t":0,"v":0.05},{"r":14,"t":10,"v":0.04},{"r":14,"t":20,"v":-0.02},{"r":14,"t":30,"v":-0.18},{"r":14,"t":40,"v":-0.5},{"r":14,"t":50,"v":-0.66},{"r":14,"t":60,"v":-0.66},{"r":14,"t":70,"v":-0.48},{"r":14,"t":80,"v":-0.12},{"r":14,"t":90,"v":0.22},{"r":14,"t":100,"v":0.45},{"r":14,"t":110,"v":0.6},{"r":14,"t":120,"v":0.65},{"r":14,"t":130,"v":0.66},{"r":14,"t":140,"v":0.65},{"r":14,"t":150,"v":0.62},{"r":14,"t":160,"v":0.57},{"r":14,"t":170,"v":0.5},{"r":14,"t":180,"v":0.45},{"r":14,"t":190,"v":0.4},{"r":14,"t":200,"v":0.36},{"r":14,"t":210,"v":0.32},{"r":14,"t":220,"v":0.29},{"r":14,"t":230,"v":0.26},{"r":14,"t":240,"v":0.22},{"r":14,"t":250,"v":0.17},{"r":14,"t":260,"v":0.12},{"r":14,"t":270,"v":0.08},{"r":14,"t":280,"v":0.05},{"r":14,"t":290,"v":0.03},{"r":14,"t":300,"v":0.02},{"r":14,"t":310,"v":0.02},
{"r":15,"t":0,"v":0.05},{"r":15,"t":10,"v":0.04},{"r":15,"t":20,"v":-0.03},{"r":15,"t":30,"v":-0.2},{"r":15,"t":40,"v":-0.55},{"r":15,"t":50,"v":-0.7},{"r":15,"t":60,"v":-0.7},{"r":15,"t":70,"v":-0.52},{"r":15,"t":80,"v":-0.14},{"r":15,"t":90,"v":0.22},{"r":15,"t":100,"v":0.48},{"r":15,"t":110,"v":0.64},{"r":15,"t":120,"v":0.68},{"r":15,"t":130,"v":0.69},{"r":15,"t":140,"v":0.68},{"r":15,"t":150,"v":0.66},{"r":15,"t":160,"v":0.62},{"r":15,"t":170,"v":0.56},{"r":15,"t":180,"v":0.5},{"r":15,"t":190,"v":0.45},{"r":15,"t":200,"v":0.4},{"r":15,"t":210,"v":0.35},{"r":15,"t":220,"v":0.31},{"r":15,"t":230,"v":0.27},{"r":15,"t":240,"v":0.23},{"r":15,"t":250,"v":0.18},{"r":15,"t":260,"v":0.13},{"r":15,"t":270,"v":0.09},{"r":15,"t":280,"v":0.05},{"r":15,"t":290,"v":0.03},{"r":15,"t":300,"v":0.02},{"r":15,"t":310,"v":0.02},
{"r":16,"t":0,"v":0.05},{"r":16,"t":10,"v":0.04},{"r":16,"t":20,"v":-0.04},{"r":16,"t":30,"v":-0.22},{"r":16,"t":40,"v":-0.58},{"r":16,"t":50,"v":-0.74},{"r":16,"t":60,"v":-0.74},{"r":16,"t":70,"v":-0.56},{"r":16,"t":80,"v":-0.16},{"r":16,"t":90,"v":0.22},{"r":16,"t":100,"v":0.5},{"r":16,"t":110,"v":0.66},{"r":16,"t":120,"v":0.7},{"r":16,"t":130,"v":0.72},{"r":16,"t":140,"v":0.72},{"r":16,"t":150,"v":0.7},{"r":16,"t":160,"v":0.66},{"r":16,"t":170,"v":0.6},{"r":16,"t":180,"v":0.54},{"r":16,"t":190,"v":0.48},{"r":16,"t":200,"v":0.43},{"r":16,"t":210,"v":0.38},{"r":16,"t":220,"v":0.33},{"r":16,"t":230,"v":0.28},{"r":16,"t":240,"v":0.24},{"r":16,"t":250,"v":0.19},{"r":16,"t":260,"v":0.14},{"r":16,"t":270,"v":0.1},{"r":16,"t":280,"v":0.06},{"r":16,"t":290,"v":0.04},{"r":16,"t":300,"v":0.03},{"r":16,"t":310,"v":0.03},
{"r":17,"t":0,"v":0.06},{"r":17,"t":10,"v":0.04},{"r":17,"t":20,"v":-0.08},{"r":17,"t":30,"v":-0.3},{"r":17,"t":40,"v":-0.65},{"r":17,"t":50,"v":-0.78},{"r":17,"t":60,"v":-0.78},{"r":17,"t":70,"v":-0.65},{"r":17,"t":80,"v":-0.25},{"r":17,"t":90,"v":0.12},{"r":17,"t":100,"v":0.42},{"r":17,"t":110,"v":0.65},{"r":17,"t":120,"v":0.72},{"r":17,"t":130,"v":0.76},{"r":17,"t":140,"v":0.78},{"r":17,"t":150,"v":0.78},{"r":17,"t":160,"v":0.76},{"r":17,"t":170,"v":0.72},{"r":17,"t":180,"v":0.68},{"r":17,"t":190,"v":0.65},{"r":17,"t":200,"v":0.62},{"r":17,"t":210,"v":0.56},{"r":17,"t":220,"v":0.5},{"r":17,"t":230,"v":0.44},{"r":17,"t":240,"v":0.36},{"r":17,"t":250,"v":0.28},{"r":17,"t":260,"v":0.2},{"r":17,"t":270,"v":0.15},{"r":17,"t":280,"v":0.12},{"r":17,"t":290,"v":0.1},{"r":17,"t":300,"v":0.1},{"r":17,"t":310,"v":0.1},
{"r":18,"t":0,"v":0.06},{"r":18,"t":10,"v":0.04},{"r":18,"t":20,"v":-0.1},{"r":18,"t":30,"v":-0.33},{"r":18,"t":40,"v":-0.72},{"r":18,"t":50,"v":-0.85},{"r":18,"t":60,"v":-0.85},{"r":18,"t":70,"v":-0.7},{"r":18,"t":80,"v":-0.28},{"r":18,"t":90,"v":0.1},{"r":18,"t":100,"v":0.42},{"r":18,"t":110,"v":0.66},{"r":18,"t":120,"v":0.75},{"r":18,"t":130,"v":0.82},{"r":18,"t":140,"v":0.86},{"r":18,"t":150,"v":0.86},{"r":18,"t":160,"v":0.84},{"r":18,"t":170,"v":0.78},{"r":18,"t":180,"v":0.7},{"r":18,"t":190,"v":0.66},{"r":18,"t":200,"v":0.62},{"r":18,"t":210,"v":0.56},{"r":18,"t":220,"v":0.5},{"r":18,"t":230,"v":0.44},{"r":18,"t":240,"v":0.36},{"r":18,"t":250,"v":0.28},{"r":18,"t":260,"v":0.2},{"r":18,"t":270,"v":0.15},{"r":18,"t":280,"v":0.12},{"r":18,"t":290,"v":0.1},{"r":18,"t":300,"v":0.1},{"r":18,"t":310,"v":0.1},
{"r":19,"t":0,"v":0.06},{"r":19,"t":10,"v":0.04},{"r":19,"t":20,"v":-0.1},{"r":19,"t":30,"v":-0.33},{"r":19,"t":40,"v":-0.74},{"r":19,"t":50,"v":-0.88},{"r":19,"t":60,"v":-0.88},{"r":19,"t":70,"v":-0.72},{"r":19,"t":80,"v":-0.28},{"r":19,"t":90,"v":0.1},{"r":19,"t":100,"v":0.42},{"r":19,"t":110,"v":0.68},{"r":19,"t":120,"v":0.78},{"r":19,"t":130,"v":0.86},{"r":19,"t":140,"v":0.92},{"r":19,"t":150,"v":0.92},{"r":19,"t":160,"v":0.88},{"r":19,"t":170,"v":0.8},{"r":19,"t":180,"v":0.72},{"r":19,"t":190,"v":0.67},{"r":19,"t":200,"v":0.63},{"r":19,"t":210,"v":0.57},{"r":19,"t":220,"v":0.5},{"r":19,"t":230,"v":0.44},{"r":19,"t":240,"v":0.36},{"r":19,"t":250,"v":0.28},{"r":19,"t":260,"v":0.2},{"r":19,"t":270,"v":0.15},{"r":19,"t":280,"v":0.12},{"r":19,"t":290,"v":0.1},{"r":19,"t":300,"v":0.1},{"r":19,"t":310,"v":0.1},
{"r":20,"t":0,"v":0.06},{"r":20,"t":10,"v":0.04},{"r":20,"t":20,"v":-0.1},{"r":20,"t":30,"v":-0.33},{"r":20,"t":40,"v":-0.73},{"r":20,"t":50,"v":-0.87},{"r":20,"t":60,"v":-0.86},{"r":20,"t":70,"v":-0.7},{"r":20,"t":80,"v":-0.28},{"r":20,"t":90,"v":0.1},{"r":20,"t":100,"v":0.42},{"r":20,"t":110,"v":0.67},{"r":20,"t":120,"v":0.77},{"r":20,"t":130,"v":0.85},{"r":20,"t":140,"v":0.9},{"r":20,"t":150,"v":0.9},{"r":20,"t":160,"v":0.86},{"r":20,"t":170,"v":0.78},{"r":20,"t":180,"v":0.71},{"r":20,"t":190,"v":0.66},{"r":20,"t":200,"v":0.62},{"r":20,"t":210,"v":0.56},{"r":20,"t":220,"v":0.5},{"r":20,"t":230,"v":0.44},{"r":20,"t":240,"v":0.36},{"r":20,"t":250,"v":0.28},{"r":20,"t":260,"v":0.2},{"r":20,"t":270,"v":0.15},{"r":20,"t":280,"v":0.12},{"r":20,"t":290,"v":0.1},{"r":20,"t":300,"v":0.1},{"r":20,"t":310,"v":0.1},
{"r":21,"t":0,"v":0.07},{"r":21,"t":10,"v":0.05},{"r":21,"t":20,"v":-0.1},{"r":21,"t":30,"v":-0.32},{"r":21,"t":40,"v":-0.7},{"r":21,"t":50,"v":-0.82},{"r":21,"t":60,"v":-0.8},{"r":21,"t":70,"v":-0.68},{"r":21,"t":80,"v":-0.28},{"r":21,"t":90,"v":0.1},{"r":21,"t":100,"v":0.42},{"r":21,"t":110,"v":0.66},{"r":21,"t":120,"v":0.74},{"r":21,"t":130,"v":0.8},{"r":21,"t":140,"v":0.82},{"r":21,"t":150,"v":0.8},{"r":21,"t":160,"v":0.76},{"r":21,"t":170,"v":0.72},{"r":21,"t":180,"v":0.68},{"r":21,"t":190,"v":0.64},{"r":21,"t":200,"v":0.6},{"r":21,"t":210,"v":0.55},{"r":21,"t":220,"v":0.49},{"r":21,"t":230,"v":0.43},{"r":21,"t":240,"v":0.36},{"r":21,"t":250,"v":0.28},{"r":21,"t":260,"v":0.2},{"r":21,"t":270,"v":0.15},{"r":21,"t":280,"v":0.12},{"r":21,"t":290,"v":0.1},{"r":21,"t":300,"v":0.1},{"r":21,"t":310,"v":0.1},
{"r":22,"t":0,"v":0.08},{"r":22,"t":10,"v":0.06},{"r":22,"t":20,"v":-0.08},{"r":22,"t":30,"v":-0.3},{"r":22,"t":40,"v":-0.66},{"r":22,"t":50,"v":-0.76},{"r":22,"t":60,"v":-0.76},{"r":22,"t":70,"v":-0.66},{"r":22,"t":80,"v":-0.3},{"r":22,"t":90,"v":0.05},{"r":22,"t":100,"v":0.3},{"r":22,"t":110,"v":0.58},{"r":22,"t":120,"v":0.7},{"r":22,"t":130,"v":0.72},{"r":22,"t":140,"v":0.73},{"r":22,"t":150,"v":0.72},{"r":22,"t":160,"v":0.7},{"r":22,"t":170,"v":0.67},{"r":22,"t":180,"v":0.64},{"r":22,"t":190,"v":0.62},{"r":22,"t":200,"v":0.58},{"r":22,"t":210,"v":0.53},{"r":22,"t":220,"v":0.48},{"r":22,"t":230,"v":0.42},{"r":22,"t":240,"v":0.35},{"r":22,"t":250,"v":0.27},{"r":22,"t":260,"v":0.2},{"r":22,"t":270,"v":0.15},{"r":22,"t":280,"v":0.12},{"r":22,"t":290,"v":0.11},{"r":22,"t":300,"v":0.1},{"r":22,"t":310,"v":0.1},
{"r":23,"t":0,"v":0.1},{"r":23,"t":10,"v":0.1},{"r":23,"t":20,"v":0.05},{"r":23,"t":30,"v":-0.3},{"r":23,"t":40,"v":-0.65},{"r":23,"t":50,"v":-0.75},{"r":23,"t":60,"v":-0.75},{"r":23,"t":70,"v":-0.7},{"r":23,"t":80,"v":-0.35},{"r":23,"t":90,"v":0.1},{"r":23,"t":100,"v":0.28},{"r":23,"t":110,"v":0.48},{"r":23,"t":120,"v":0.68},{"r":23,"t":130,"v":0.72},{"r":23,"t":140,"v":0.72},{"r":23,"t":150,"v":0.7},{"r":23,"t":160,"v":0.68},{"r":23,"t":170,"v":0.65},{"r":23,"t":180,"v":0.62},{"r":23,"t":190,"v":0.6},{"r":23,"t":200,"v":0.56},{"r":23,"t":210,"v":0.52},{"r":23,"t":220,"v":0.47},{"r":23,"t":230,"v":0.41},{"r":23,"t":240,"v":0.34},{"r":23,"t":250,"v":0.27},{"r":23,"t":260,"v":0.2},{"r":23,"t":270,"v":0.15},{"r":23,"t":280,"v":0.12},{"r":23,"t":290,"v":0.12},{"r":23,"t":300,"v":0.1},{"r":23,"t":310,"v":0.1}
]
},
"spacing":20,
"hconcat":[
{"vconcat":[
{"width":292,"height":211,"layer":[
{"data":{"values":[{}]},"mark":{"type":"rule","color":"#222","strokeWidth":1},"encoding":{"x":{"datum":0,"type":"quantitative","scale":{"domain":[0,320],"nice":false,"zero":false},"axis":null},"x2":{"datum":320},"y":{"datum":0,"type":"quantitative","scale":{"domain":[-194,228],"nice":false,"zero":false},"axis":null}}},
{"data":{"name":"A"},"transform":[{"filter":{"field":"s","oneOf":["g1","g2","g3","g4","g5","g6"]}}],"mark":{"type":"line","color":"#bdbdbd","strokeWidth":1,"interpolate":"monotone"},"encoding":{"x":{"field":"t","type":"quantitative","axis":null},"y":{"field":"v","type":"quantitative","axis":null},"detail":{"field":"s"}}},
{"data":{"name":"A"},"transform":[{"filter":"datum.s=='r'"}],"mark":{"type":"line","color":"#e8262a","strokeWidth":4},"encoding":{"x":{"field":"t","type":"quantitative","axis":null},"y":{"field":"v","type":"quantitative","axis":null}}},
{"data":{"name":"A"},"transform":[{"filter":"datum.s=='m'"}],"mark":{"type":"line","color":"#000","strokeWidth":4,"strokeJoin":"round"},"encoding":{"x":{"field":"t","type":"quantitative","axis":null},"y":{"field":"v","type":"quantitative","axis":null}}},
{"data":{"values":[{"x":-46,"y":20,"txt":"A)"}]},"mark":{"type":"text","align":"left","baseline":"middle","fontSize":23,"fontWeight":"bold"},"encoding":{"x":{"field":"x","type":"quantitative","axis":null},"y":{"field":"y","type":"quantitative","axis":null},"text":{"field":"txt"}}},
{"data":{"values":[{"x":-5.5,"y":132,"txt":"click"},{"x":127,"y":220,"txt":"P1"},{"x":49,"y":-170,"txt":"N1"},{"x":227,"y":-80,"txt":"baseline"},{"x":252,"y":90,"txt":"100 µV"},{"x":271,"y":-168,"txt":"100ms"}]},"mark":{"type":"text","align":"center","baseline":"middle","fontSize":16},"encoding":{"x":{"field":"x","type":"quantitative","axis":null},"y":{"field":"y","type":"quantitative","axis":null},"text":{"field":"txt"}}},
{"data":{"values":[{}]},"mark":{"type":"text","align":"center","baseline":"middle","fontSize":22,"text":"+"},"encoding":{"x":{"datum":293,"axis":null},"y":{"datum":162,"axis":null}}},
{"data":{"values":[{}]},"mark":{"type":"rule","color":"#222","strokeWidth":1.5},"encoding":{"x":{"datum":294,"axis":null},"y":{"datum":46,"axis":null},"y2":{"datum":146}}},
{"data":{"values":[{}]},"mark":{"type":"rule","color":"#222","strokeWidth":1.5},"encoding":{"x":{"datum":216,"axis":null},"x2":{"datum":316},"y":{"datum":-132,"axis":null}}},
{"data":{"values":[{}]},"mark":{"type":"rule","color":"#222","strokeWidth":1.5},"encoding":{"x":{"datum":-5.5,"axis":null},"y":{"datum":96,"axis":null},"y2":{"datum":62}}},
{"data":{"values":[{}]},"mark":{"type":"point","shape":"M0,0L-0.6,-2L0.6,-2Z","filled":true,"color":"#222","opacity":1,"size":64},"encoding":{"x":{"datum":-5.5,"axis":null},"y":{"datum":56,"axis":null}}}
]},
{"width":292,"height":120,"layer":[
{"data":{"values":[{}]},"mark":{"type":"rule","color":"#999","strokeWidth":1},"encoding":{"x":{"datum":0,"type":"quantitative","scale":{"domain":[0,320],"nice":false,"zero":false},"axis":null},"x2":{"datum":320},"y":{"datum":0,"type":"quantitative","scale":{"domain":[-174,66],"nice":false,"zero":false},"axis":null}}},
{"data":{"name":"B"},"transform":[{"filter":{"field":"s","oneOf":["g1","g2","g3","g4","g5","g6"]}}],"mark":{"type":"line","color":"#bdbdbd","strokeWidth":1,"interpolate":"monotone"},"encoding":{"x":{"field":"t","type":"quantitative","axis":null},"y":{"field":"v","type":"quantitative","axis":null},"detail":{"field":"s"}}},
{"data":{"name":"B"},"transform":[{"filter":"datum.s=='m'"}],"mark":{"type":"line","color":"#000","strokeWidth":4,"strokeJoin":"round"},"encoding":{"x":{"field":"t","type":"quantitative","axis":null},"y":{"field":"v","type":"quantitative","axis":null}}},
{"data":{"values":[{"x":-46,"y":26,"txt":"B)"}]},"mark":{"type":"text","align":"left","baseline":"middle","fontSize":23,"fontWeight":"bold"},"encoding":{"x":{"field":"x","type":"quantitative","axis":null},"y":{"field":"y","type":"quantitative","axis":null},"text":{"field":"txt"}}},
{"data":{"values":[{"x":215,"y":-50,"txt":"insult"}]},"mark":{"type":"text","align":"center","baseline":"middle","fontSize":16},"encoding":{"x":{"field":"x","type":"quantitative","axis":null},"y":{"field":"y","type":"quantitative","axis":null},"text":{"field":"txt"}}}
]},
{"width":292,"height":220,"layer":[
{"data":{"values":[{}]},"mark":{"type":"rule","color":"#999","strokeWidth":1},"encoding":{"x":{"datum":0,"type":"quantitative","scale":{"domain":[0,320],"nice":false,"zero":false},"axis":null},"x2":{"datum":320},"y":{"datum":0,"type":"quantitative","scale":{"domain":[-220,220],"nice":false,"zero":false},"axis":null}}},
{"data":{"name":"C"},"transform":[{"filter":{"field":"s","oneOf":["g1","g2","g3","g4","g5","g6"]}}],"mark":{"type":"line","color":"#bdbdbd","strokeWidth":1,"interpolate":"monotone"},"encoding":{"x":{"field":"t","type":"quantitative","axis":null},"y":{"field":"v","type":"quantitative","axis":null},"detail":{"field":"s"}}},
{"data":{"name":"C"},"transform":[{"filter":"datum.s=='r'"}],"mark":{"type":"line","color":"#e8262a","strokeWidth":4},"encoding":{"x":{"field":"t","type":"quantitative","axis":null},"y":{"field":"v","type":"quantitative","axis":null}}},
{"data":{"name":"C"},"transform":[{"filter":"datum.s=='m'"}],"mark":{"type":"line","color":"#000","strokeWidth":4,"strokeJoin":"round"},"encoding":{"x":{"field":"t","type":"quantitative","axis":null},"y":{"field":"v","type":"quantitative","axis":null}}},
{"data":{"values":[{"x":-46,"y":14,"txt":"C)"}]},"mark":{"type":"text","align":"left","baseline":"middle","fontSize":23,"fontWeight":"bold"},"encoding":{"x":{"field":"x","type":"quantitative","axis":null},"y":{"field":"y","type":"quantitative","axis":null},"text":{"field":"txt"}}},
{"data":{"values":[{"x":217,"y":-46,"txt":"latent"}]},"mark":{"type":"text","align":"center","baseline":"middle","fontSize":16},"encoding":{"x":{"field":"x","type":"quantitative","axis":null},"y":{"field":"y","type":"quantitative","axis":null},"text":{"field":"txt"}}}
]},
{"width":292,"height":280,"layer":[
{"data":{"values":[{}]},"mark":{"type":"rule","color":"#999","strokeWidth":1},"encoding":{"x":{"datum":0,"type":"quantitative","scale":{"domain":[0,320],"nice":false,"zero":false},"axis":null},"x2":{"datum":320},"y":{"datum":0,"type":"quantitative","scale":{"domain":[-310,250],"nice":false,"zero":false},"axis":null}}},
{"data":{"name":"D"},"transform":[{"filter":{"field":"s","oneOf":["g1","g2","g3","g4","g5","g6"]}}],"mark":{"type":"line","color":"#bdbdbd","strokeWidth":1,"interpolate":"monotone"},"encoding":{"x":{"field":"t","type":"quantitative","axis":null},"y":{"field":"v","type":"quantitative","axis":null},"detail":{"field":"s"}}},
{"data":{"name":"D"},"transform":[{"filter":"datum.s=='r'"}],"mark":{"type":"line","color":"#e8262a","strokeWidth":4},"encoding":{"x":{"field":"t","type":"quantitative","axis":null},"y":{"field":"v","type":"quantitative","axis":null}}},
{"data":{"name":"D"},"transform":[{"filter":"datum.s=='m'"}],"mark":{"type":"line","color":"#000","strokeWidth":4,"strokeJoin":"round"},"encoding":{"x":{"field":"t","type":"quantitative","axis":null},"y":{"field":"v","type":"quantitative","axis":null}}},
{"data":{"values":[{"x":-46,"y":16,"txt":"D)"}]},"mark":{"type":"text","align":"left","baseline":"middle","fontSize":23,"fontWeight":"bold"},"encoding":{"x":{"field":"x","type":"quantitative","axis":null},"y":{"field":"y","type":"quantitative","axis":null},"text":{"field":"txt"}}},
{"data":{"values":[{"x":209,"y":-54,"txt":"ictal"}]},"mark":{"type":"text","align":"center","baseline":"middle","fontSize":16},"encoding":{"x":{"field":"x","type":"quantitative","axis":null},"y":{"field":"y","type":"quantitative","axis":null},"text":{"field":"txt"}}}
]}
],"spacing":0,"bounds":"flush"},
{"width":294,"height":1042,
"view":{"stroke":"#1a1a1a","strokeWidth":2},
"layer":[
{"data":{"name":"H"},"transform":[{"lookup":"r","from":{"data":{"name":"R"},"key":"r","fields":["d","e"]}}],
"mark":{"type":"rect","binSpacing":0,"x2Offset":-0.8,"y2Offset":0.7},
"encoding":{
"x":{"field":"t","type":"quantitative","bin":{"step":10,"extent":[0,320]},"scale":{"domain":[0,320],"nice":false,"zero":false},"axis":null},
"y":{"field":"d","type":"quantitative","scale":{"domain":[0,31],"reverse":true,"nice":false,"zero":false},"axis":{"values":[1.2,2.5,14.4,14.85,15.9,16.9,19,20.5,22,23.45,24.3],"labels":false,"domain":false,"ticks":true,"tickSize":3,"tickColor":"#222","tickWidth":1.5,"grid":false,"title":null}},
"y2":{"field":"e"},
"color":{"field":"v","type":"quantitative","scale":{"type":"linear","domain":[-1,-0.85,-0.7,-0.5,-0.3,-0.15,0,0.12,0.25,0.45,0.65,0.8,1],"range":["#19225e","#22348a","#2d4fa6","#3378c6","#3dbff0","#6cc5c0","#94c866","#b7d23e","#f2e51c","#f6a51e","#e8292a","#c01f22","#6b1212"]},
"legend":{"type":"gradient","orient":"none","legendX":507,"legendY":1053,"direction":"horizontal","title":null,"gradientLength":98,"gradientThickness":12,"labelFontSize":16,"labelFont":"Lato","labelColor":"#333","labelOffset":-6,"labelOverlap":false,"gradientStrokeWidth":0,"labelExpr":"datum.value==-1?'-1.0':datum.value==1?'1.0':''","encode":{"labels":{"update":{"align":{"signal":"datum.value<0?'right':'left'"},"baseline":{"value":"middle"},"dx":{"signal":"datum.value<0?-6:7"}}}}}}
}},
{"data":{"values":[{"d":18.66},{"d":19.46},{"d":19.7},{"d":22.23},{"d":22.44},{"d":25.0},{"d":25.45},{"d":26.43},{"d":30.39}]},"mark":{"type":"rule","color":"#2b4540","strokeWidth":2},"encoding":{"x":{"datum":0,"axis":null},"x2":{"datum":320},"y":{"field":"d","type":"quantitative","axis":null}}},
{"data":{"values":[{}]},"mark":{"type":"rule","color":"#e8302a","strokeWidth":2,"strokeDash":[18,19]},"encoding":{"x":{"datum":0,"axis":null},"x2":{"datum":320},"y":{"datum":6.16,"axis":null}}},
{"data":{"values":[{"d0":0.27,"d1":5.89},{"d0":6.49,"d1":9.43},{"d0":10.06,"d1":18.18},{"d0":18.87,"d1":30.59}]},"mark":{"type":"rule","color":"#1a1a1a","strokeWidth":2},"encoding":{"x":{"datum":154.5,"axis":null},"y":{"field":"d0","type":"quantitative","axis":null},"y2":{"field":"d1"}}},
{"data":{"values":[{"d0":0.27,"d1":5.89},{"d0":6.49,"d1":9.43},{"d0":10.06,"d1":18.18},{"d0":18.87,"d1":30.59}]},"mark":{"type":"point","shape":"M0,0L-0.6,2L0.6,2Z","filled":true,"color":"#1a1a1a","opacity":1,"size":169},"encoding":{"x":{"datum":154.5,"axis":null},"y":{"field":"d0","type":"quantitative","axis":null}}},
{"data":{"values":[{"d0":0.27,"d1":5.89},{"d0":6.49,"d1":9.43},{"d0":10.06,"d1":18.18},{"d0":18.87,"d1":30.59}]},"mark":{"type":"point","shape":"M0,0L-0.6,-2L0.6,-2Z","filled":true,"color":"#1a1a1a","opacity":1,"size":169},"encoding":{"x":{"datum":154.5,"axis":null},"y":{"field":"d1","type":"quantitative","axis":null}}},
{"data":{"values":[{"x":215.5,"y":3.06,"txt":"baseline"},{"x":204.6,"y":7.94,"txt":"insult"},{"x":205,"y":14.16,"txt":"latent"},{"x":197.5,"y":24.52,"txt":"ictal"}]},"mark":{"type":"text","align":"center","baseline":"middle","fontSize":17,"color":"#2e2e2e"},"encoding":{"x":{"field":"x","type":"quantitative","axis":null},"y":{"field":"y","type":"quantitative","axis":null},"text":{"field":"txt"}}},
{"data":{"values":[{"x":-16,"y":6.16,"txt":"SE"},{"x":-5.4,"y":18.66,"txt":"SRS"}]},"mark":{"type":"text","align":"right","baseline":"middle","fontSize":16,"color":"#e02a22"},"encoding":{"x":{"field":"x","type":"quantitative","axis":null},"y":{"field":"y","type":"quantitative","axis":null},"text":{"field":"txt"}}},
{"data":{"values":[{"x":-1,"y":-1.5,"txt":"click"},{"x":56.6,"y":31.72,"txt":"100ms"}]},"mark":{"type":"text","align":"center","baseline":"middle","fontSize":16},"encoding":{"x":{"field":"x","type":"quantitative","axis":null},"y":{"field":"y","type":"quantitative","axis":null},"text":{"field":"txt"}}},
{"data":{"values":[{}]},"mark":{"type":"rule","color":"#222","strokeWidth":1.5},"encoding":{"x":{"datum":0,"axis":null},"y":{"datum":-1.0,"axis":null},"y2":{"datum":-0.5}}},
{"data":{"values":[{}]},"mark":{"type":"point","shape":"M0,0L-0.6,-2L0.6,-2Z","filled":true,"color":"#222","opacity":1,"size":100},"encoding":{"x":{"datum":0,"axis":null},"y":{"datum":-0.42,"axis":null}}},
{"data":{"values":[{}]},"mark":{"type":"rule","color":"#333","strokeWidth":2},"encoding":{"x":{"datum":1,"axis":null},"x2":{"datum":101},"y":{"datum":31.24,"axis":null}}},
{"data":{"values":[{"a":0.05,"b":15.2},{"a":17.15,"b":30.8}]},"mark":{"type":"rule","color":"#333","strokeWidth":1.5},"encoding":{"x":{"datum":345,"axis":null},"y":{"field":"a","type":"quantitative","axis":null},"y2":{"field":"b"}}},
{"data":{"values":[{}]},"mark":{"type":"point","shape":"M0,0L-0.6,-2L0.6,-2Z","filled":true,"color":"#333","opacity":1,"size":100},"encoding":{"x":{"datum":345,"axis":null},"y":{"datum":30.85,"axis":null}}},
{"data":{"values":[{}]},"mark":{"type":"point","shape":"M-0.8,-1L0,-0.4L0.8,-1M-0.8,-0.4L0,0.2L0.8,-0.4M-0.8,0.2L0,0.8L0.8,0.2","filled":false,"color":"#333","opacity":1,"strokeWidth":1,"size":64},"encoding":{"x":{"datum":345,"axis":null},"y":{"datum":0.2,"axis":null}}},
{"data":{"values":[{}]},"mark":{"type":"text","align":"center","baseline":"middle","fontSize":14,"angle":270,"text":"31 days"},"encoding":{"x":{"datum":343.5,"axis":null},"y":{"datum":16.2,"axis":null}}}
]}
]
}
